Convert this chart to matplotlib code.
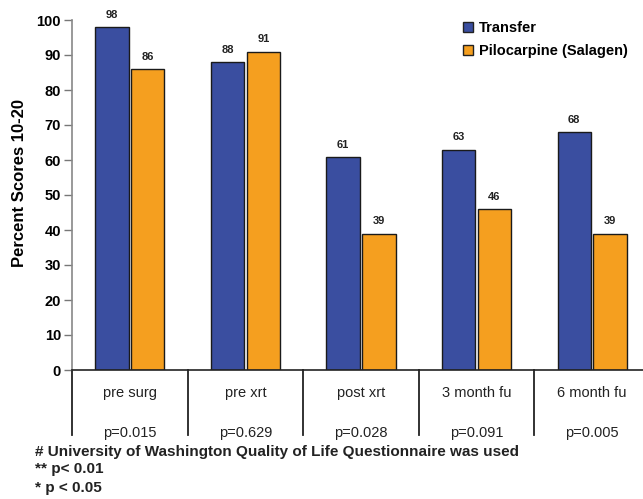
import numpy as np
import matplotlib.pyplot as plt
from matplotlib.patches import Patch

plt.rcParams["font.family"] = ["Liberation Sans", "DejaVu Sans"]

categories = ["pre surg", "pre xrt", "post xrt", "3 month fu", "6 month fu"]
p_values = ["p=0.015", "p=0.629", "p=0.028", "p=0.091", "p=0.005"]
transfer = [98, 88, 61, 63, 68]
pilocarpine = [86, 91, 39, 46, 39]
series_names = ["Transfer", "Pilocarpine (Salagen)"]
footnotes = ["# University of Washington Quality of Life Questionnaire was used",
             "** p< 0.01",
             "* p < 0.05"]

blue = "#3a4ea0"
orange = "#f59f1f"
ink = "#222222"

fig = plt.figure(figsize=(6.43, 4.99), dpi=100)
ax = fig.add_axes([72 / 643, 1 - 370 / 499, 578 / 643, 350 / 499])

x = np.arange(len(categories))
w = 0.29
off = 0.155
ax.bar(x - off, transfer, w, color=blue, edgecolor="#1a1a1a", linewidth=1.0)
ax.bar(x + off, pilocarpine, w, color=orange, edgecolor="#1a1a1a", linewidth=1.0)

for i in range(len(categories)):
    ax.text(x[i] - off, transfer[i] + 2, str(transfer[i]), ha="center", va="bottom",
            fontsize=8, fontweight="bold", color=ink)
    ax.text(x[i] + off, pilocarpine[i] + 2, str(pilocarpine[i]), ha="center", va="bottom",
            fontsize=8, fontweight="bold", color=ink)

ax.set_xlim(-0.5, len(categories) - 0.5)
ax.set_ylim(0, 100)
ax.set_yticks(range(0, 101, 10))
ax.tick_params(axis="y", length=6, width=1, color="#777777", labelsize=10.5, pad=2)
for lab in ax.get_yticklabels():
    lab.set_fontweight("bold")
ax.set_xticks([])
ax.set_ylabel("Percent Scores 10-20", fontsize=12, fontweight="bold")
ax.yaxis.set_label_coords(-0.078, 0.533)

ax.spines["top"].set_visible(False)
ax.spines["right"].set_visible(False)
ax.spines["left"].set_color("#888888")
ax.spines["left"].set_linewidth(1.2)
ax.spines["bottom"].set_color(ink)
ax.spines["bottom"].set_linewidth(1.2)

# category dividers and labels below the axis
for b in np.arange(-0.5, len(categories) - 0.4, 1.0):
    ax.plot([b, b], [0, -18.7], color=ink, linewidth=1.3, clip_on=False)
for i in range(len(categories)):
    ax.text(x[i], -6.6, categories[i], ha="center", va="center", fontsize=10.5, color=ink)
    ax.text(x[i], -18, p_values[i], ha="center", va="center", fontsize=10.5, color=ink)

for txt, yy in zip(footnotes, [452, 469, 488]):
    fig.text(35 / 643, 1 - yy / 499, txt, ha="left", va="center",
             fontsize=11, fontweight="bold", color=ink)

handles = [Patch(facecolor=blue, edgecolor=ink),
           Patch(facecolor=orange, edgecolor=ink)]
fig.legend(handles, series_names, loc="upper left", bbox_to_anchor=(463 / 643, 1 - 21 / 499),
           frameon=False, borderpad=0, borderaxespad=0, handlelength=0.7,
           handleheight=0.7, handletextpad=0.4, labelspacing=0.65,
           prop={"size": 10.5, "weight": "bold"})

fig.savefig("out.png", dpi=100)
